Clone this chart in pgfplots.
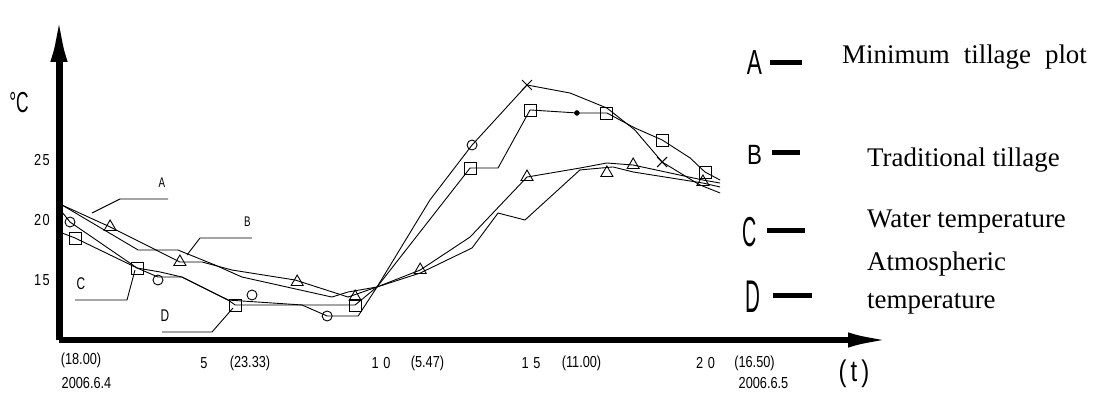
\documentclass[border=0pt]{standalone}
\usepackage{graphicx}
\usepackage{pgfplots}
\pgfplotsset{compat=1.18}
\usetikzlibrary{arrows.meta}
\usepackage{fontspec}
\setmainfont{Liberation Serif}
\newfontfamily\cond{Liberation Sans}
\newcommand{\tk}[1]{\scalebox{0.8}[1]{\cond\fontsize{16}{16}\selectfont #1}}
\newcommand{\nl}[3]{\scalebox{#1}[1]{\cond\fontsize{#2}{#2}\selectfont #3}}
\begin{document}
\begin{tikzpicture}[x=1bp,y=1bp]
\useasboundingbox (0,0) rectangle (1097,392);
\begin{axis}[
  at={(59bp,52bp)}, anchor=south west, scale only axis,
  width=834bp, height=328bp,
  xmin=0.733, xmax=25.48, ymin=10, ymax=37.333,
  axis lines=left,
  x axis line style={line width=6bp, -{Latex[length=45bp,width=15bp]}},
  y axis line style={line width=7bp, -{Latex[length=50bp,width=17bp]}},
  xtick=\empty, ytick={15,20,25},
  yticklabels={\tk{1\kern2bp5},\tk{2\kern2bp0},\tk{2\kern2bp5}},
  major tick length=0pt,
  yticklabel style={anchor=east, inner sep=0pt, xshift=-9bp},
  clip=false,
]
% Series with circles / crosses
\addplot[black, line width=0.9bp, mark=none] coordinates {
(0.82,20.67) (1.06,19.83) (3.05,16.0) (3.67,15.25) (4.38,15.25) (5.75,13.33)
(7.94,12.92) (8.69,12.0) (9.61,12.0) (10.17,14.42) (11.74,21.67) (12.99,26.25)
(14.62,31.25) (15.90,30.58) (16.99,29.33) (17.82,27.5) (18.63,24.83) (19.75,22.92) (20.35,22.25)};
\addplot[only marks, mark=o, mark size=5bp, mark options={solid, line width=0.9bp, fill=white}] coordinates {
(1.06,19.83) (3.67,15.0) (6.46,13.75) (8.69,12.0) (12.99,26.25)};
\addplot[only marks, mark=x, mark size=7bp, mark options={solid, line width=1bp}] coordinates {
(14.62,31.25) (18.63,24.83)};
% Series with squares
\addplot[black, line width=0.9bp, mark=none] coordinates {
(0.82,18.92) (1.21,18.5) (3.05,16.0) (3.73,15.67) (4.38,15.25) (5.75,13.33)
(5.96,12.92) (9.52,12.92) (10.17,14.42) (12.93,24.33) (13.76,24.33) (14.71,29.17)
(16.10,28.92) (16.99,28.92) (17.82,27.67) (18.63,26.67) (19.46,25.17) (19.90,24.0) (20.35,23.33)};
\addplot[only marks, mark=square, mark size=6bp, mark options={solid, line width=0.9bp}] coordinates {
(1.21,18.5) (3.05,16.0) (5.96,12.92) (9.52,12.92) (12.93,24.33) (14.71,29.17)
(16.99,28.92) (18.63,26.67) (19.90,24.0)};
\addplot[only marks, mark=*, mark size=2.5bp] coordinates {(16.10,28.92)};
% Series with triangles
\addplot[black, line width=0.9bp, mark=none] coordinates {
(0.82,21.25) (2.25,19.42) (4.32,16.5) (4.98,16.5) (5.87,15.83) (7.74,15.0)
(9.31,13.58) (10.17,14.42) (11.45,15.83) (12.93,18.58) (14.62,23.58) (16.19,24.33)
(16.99,24.75) (17.77,24.58) (19.84,23.33) (20.35,23.08)};
\addplot[only marks, mark=triangle, mark size=7bp, mark options={solid, line width=0.9bp}] coordinates {
(2.25,19.42) (4.32,16.5) (7.80,14.83) (9.52,13.58) (11.45,15.83) (14.62,23.58)
(16.99,23.92) (17.77,24.58) (19.84,23.17)};
% Plain series
\addplot[black, line width=0.9bp, mark=none] coordinates {
(0.82,21.25) (3.08,17.5) (4.26,17.5) (5.36,16.25) (6.16,15.25) (8.83,13.58)
(9.31,14.0) (10.17,14.42) (11.45,15.58) (12.99,17.67) (13.76,20.58) (14.56,20.0)
(16.19,24.17) (17.17,24.42) (17.77,24.0) (19.84,23.08) (20.35,22.75)};
\end{axis}
% unit label
\node[inner sep=0pt] at (19,289) {\nl{0.6}{29}{°C}};
% x-axis labels
\node[inner sep=0pt] at (81,32) {\tk{(18.00)}};
\node[inner sep=0pt] at (86.5,9) {\tk{2006.6.4}};
\node[inner sep=0pt] at (204,29) {\tk{5}};
\node[inner sep=0pt] at (250,29) {\tk{(23.33)}};
\node[inner sep=0pt] at (381,29) {\tk{1\kern6bp0}};
\node[inner sep=0pt] at (427.5,29) {\tk{(5.47)}};
\node[inner sep=0pt] at (531,29) {\tk{1\kern6bp5}};
\node[inner sep=0pt] at (581.5,29) {\tk{(11.00)}};
\node[inner sep=0pt] at (705.5,29) {\tk{2\kern6bp0}};
\node[inner sep=0pt] at (754.5,29) {\tk{(16.50)}};
\node[inner sep=0pt] at (763.5,9) {\tk{2006.6.5}};
\node[inner sep=0pt] at (854,18) {\nl{0.8}{30}{(\,t\,)}};
% in-plot labels with leaders
\node[inner sep=0pt] at (162,209) {\nl{0.7}{14}{A}};
\node[inner sep=0pt] at (247.5,170) {\nl{0.7}{14}{B}};
\node[inner sep=0pt] at (81,108) {\nl{0.7}{17}{C}};
\node[inner sep=0pt] at (165,76) {\nl{0.7}{17}{D}};
\draw[line width=0.9bp] (92,179) -- (120,193) -- (168,193);
\draw[line width=0.9bp] (187,137) -- (200,154) -- (252,154);
\draw[line width=0.9bp] (75,92) -- (127,92) -- (135,122);
\draw[line width=0.9bp] (162,60) -- (212,60) -- (233,84);
% legend
\node[inner sep=0pt] at (754.5,329.5) {\nl{0.65}{35}{A}};
\node[inner sep=0pt] at (754.5,237) {\nl{0.8}{28}{B}};
\node[inner sep=0pt] at (750,160) {\nl{0.47}{42}{C}};
\node[inner sep=0pt] at (752.5,95.5) {\nl{0.45}{46}{D}};
\draw[line width=5bp] (770,330) -- (802,330);
\draw[line width=5bp] (772,240) -- (800,240);
\draw[line width=5bp] (767,162) -- (805,162);
\draw[line width=5bp] (773,97) -- (812,97);
\node[anchor=base west, inner sep=0pt] at (842,329) {\fontsize{27}{30}\selectfont Minimum\hspace{14bp}tillage\hspace{14bp}plot};
\node[anchor=base west, inner sep=0pt] at (867,226) {\fontsize{27}{30}\selectfont Traditional tillage};
\node[anchor=base west, inner sep=0pt] at (867,165) {\fontsize{27}{30}\selectfont Water temperature};
\node[anchor=base west, inner sep=0pt] at (867,122) {\fontsize{27}{30}\selectfont Atmospheric};
\node[anchor=base west, inner sep=0pt] at (867,84) {\fontsize{27}{30}\selectfont temperature};
\end{tikzpicture}
\end{document}
